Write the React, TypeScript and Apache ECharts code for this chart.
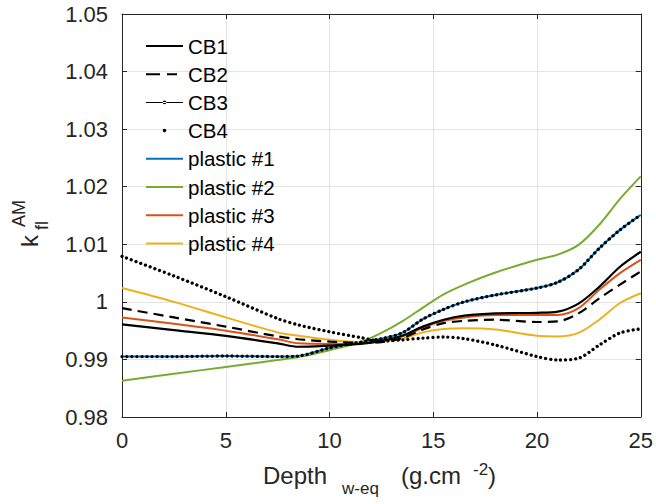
import React, { useEffect, useRef } from "react";
import * as echarts from "echarts";

// ---- Data ----
const depth = [0, 2.5, 5, 7.5, 8.5, 10, 11.5, 12.5, 13.5, 14.5, 15.5, 16.5, 18, 20, 21, 22, 23, 24, 25];

const cb1 = [0.9961, 0.9951, 0.9941, 0.9928, 0.9922, 0.9924, 0.9927, 0.9932, 0.9941, 0.9957, 0.9969, 0.9976, 0.998, 0.9981, 0.9983, 0.9997, 1.0026, 1.0061, 1.0087];
const cb2 = [0.9989, 0.9973, 0.9957, 0.994, 0.9935, 0.9931, 0.9929, 0.993, 0.9937, 0.9952, 0.9963, 0.9967, 0.9969, 0.9965, 0.9966, 0.998, 1.0006, 1.003, 1.0053];
const cb3 = [1.0079, 1.0045, 1.0009, 0.9971, 0.996, 0.9948, 0.9938, 0.9932, 0.9934, 0.9937, 0.9939, 0.9936, 0.9925, 0.9905, 0.9899, 0.9902, 0.9925, 0.9946, 0.9953];
const cb4 = [0.9905, 0.9905, 0.9906, 0.9905, 0.9906, 0.992, 0.993, 0.9936, 0.9946, 0.997, 0.9987, 1.0, 1.0012, 1.0024, 1.0034, 1.0056, 1.0093, 1.0125, 1.0151];
const plastic1 = [0.9905, 0.9905, 0.9906, 0.9905, 0.9906, 0.992, 0.993, 0.9936, 0.9946, 0.997, 0.9987, 1.0, 1.0012, 1.0024, 1.0034, 1.0056, 1.0093, 1.0125, 1.0151];
const plastic2 = [0.9863, 0.9875, 0.9887, 0.9899, 0.9904, 0.9916, 0.993, 0.9946, 0.9966, 0.999, 1.0013, 1.003, 1.0051, 1.0073, 1.0082, 1.0099, 1.0134, 1.0179, 1.0218];
const plastic3 = [0.9973, 0.9962, 0.995, 0.9935, 0.9928, 0.9927, 0.9928, 0.9932, 0.994, 0.9955, 0.9967, 0.9973, 0.9977, 0.9977, 0.9977, 0.9989, 1.0021, 1.005, 1.0073];
const plastic4 = [1.0024, 1.0, 0.9973, 0.9947, 0.9941, 0.9934, 0.993, 0.9932, 0.9936, 0.9947, 0.9953, 0.9954, 0.9952, 0.9941, 0.994, 0.9946, 0.9969, 0.9998, 1.0015];

const seriesNames = ["CB1", "CB2", "CB3", "CB4", "plastic #1", "plastic #2", "plastic #3", "plastic #4"];
const xTicks = [0, 5, 10, 15, 20, 25];
const yTicks = [0.98, 0.99, 1.0, 1.01, 1.02, 1.03, 1.04, 1.05];

const FONT = "'Liberation Sans', Arial, Helvetica, sans-serif";
const AXIS_COLOR = "#262626";
const GRID_COLOR = "#e4e4e4";
const BLUE = "#0072BD";
const ORANGE = "#D95319";
const YELLOW = "#EDB120";
const GREEN = "#77AC30";

// legend icons (37 x 14 box, anchored by the corner moveTo points)
const BOX = "M0,0M37,14";
const ICON_SOLID = `path://${BOX}M0,6L37,6L37,8L0,8Z`;
const ICON_DASH = `path://${BOX}M0,6L14,6L14,8L0,8ZM21,6L31,6L31,8L21,8Z`;
const ICON_LINE_DOT = `path://${BOX}M0,6.5L37,6.5L37,7.5L0,7.5ZM16.7,7A1.8,1.8,0,1,0,20.3,7A1.8,1.8,0,1,0,16.7,7Z`;
const ICON_DOT = `path://${BOX}M16.7,7A1.8,1.8,0,1,0,20.3,7A1.8,1.8,0,1,0,16.7,7Z`;

function pairs(vals: number[]) {
  return depth.map((x, i) => [x, vals[i]]);
}

export default function App() {
  const ref = useRef<HTMLDivElement>(null);

  useEffect(() => {
    if (!ref.current) return;
    const chart = echarts.init(ref.current, undefined, { renderer: "svg" });

    const lineBase = {
      type: "line" as const,
      showSymbol: false,
      symbol: "none",
      smooth: 0.3,
      silent: true,
    };

    const axisCommon = {
      type: "value" as const,
      axisLine: { show: true, onZero: false, lineStyle: { color: AXIS_COLOR, width: 1 } },
      axisTick: { show: true, inside: true, length: 5, lineStyle: { color: AXIS_COLOR, width: 1 } },
      splitLine: { show: false },
    };

    const txt = (text: string, x: number, y: number, fontSize: number) => ({
      type: "text",
      x,
      y,
      style: { text, fontSize, fontFamily: FONT, fill: AXIS_COLOR, align: "left", verticalAlign: "middle" },
    });

    const option: any = {
      animation: false,
      backgroundColor: "#ffffff",
      grid: { left: 122, right: 10, top: 14, bottom: 87, containLabel: false },
      xAxis: [
        {
          ...axisCommon,
          position: "bottom",
          min: xTicks[0],
          max: xTicks[xTicks.length - 1],
          interval: 5,
          axisLabel: { show: true, color: AXIS_COLOR, fontSize: 22, fontFamily: FONT, margin: 12 },
          splitLine: { show: true, lineStyle: { color: GRID_COLOR, width: 1 } },
        },
        {
          ...axisCommon,
          position: "top",
          min: xTicks[0],
          max: xTicks[xTicks.length - 1],
          interval: 5,
          axisLabel: { show: false },
        },
      ],
      yAxis: [
        {
          ...axisCommon,
          position: "left",
          min: yTicks[0],
          max: yTicks[yTicks.length - 1],
          interval: 0.01,
          axisLabel: {
            show: true,
            color: AXIS_COLOR,
            fontSize: 22,
            fontFamily: FONT,
            margin: 14,
            formatter: (v: number) => String(Number(v.toFixed(2))),
          },
          splitLine: { show: true, lineStyle: { color: GRID_COLOR, width: 1 } },
        },
        {
          ...axisCommon,
          position: "right",
          min: yTicks[0],
          max: yTicks[yTicks.length - 1],
          interval: 0.01,
          axisLabel: { show: false },
        },
      ],
      legend: {
        orient: "vertical",
        left: 141,
        top: 30.5,
        itemWidth: 37,
        itemHeight: 14,
        itemGap: 7.2,
        selectedMode: false,
        itemStyle: { borderWidth: 0 },
        textStyle: { fontSize: 20.5, lineHeight: 20, fontFamily: FONT, color: "#000" },
        data: [
          { name: seriesNames[0], icon: ICON_SOLID },
          { name: seriesNames[1], icon: ICON_DASH },
          { name: seriesNames[2], icon: ICON_LINE_DOT },
          { name: seriesNames[3], icon: ICON_DOT },
          { name: seriesNames[4], icon: ICON_SOLID },
          { name: seriesNames[5], icon: ICON_SOLID },
          { name: seriesNames[6], icon: ICON_SOLID },
          { name: seriesNames[7], icon: ICON_SOLID },
        ],
      },
      series: [
        { ...lineBase, name: seriesNames[0], data: pairs(cb1), color: "#000", z: 4, lineStyle: { color: "#000", width: 2.2 } },
        { ...lineBase, name: seriesNames[1], data: pairs(cb2), color: "#000", z: 4, lineStyle: { color: "#000", width: 2.2, type: [10, 6] } },
        { ...lineBase, name: seriesNames[2], data: pairs(cb3), color: "#000", z: 4, lineStyle: { color: "#000", width: 3.3, type: [0.01, 5], cap: "round" } },
        { ...lineBase, name: seriesNames[3], data: pairs(cb4), color: "#000", z: 5, lineStyle: { color: "#000", width: 3.3, type: [0.01, 5], cap: "round" } },
        { ...lineBase, name: seriesNames[4], data: pairs(plastic1), color: BLUE, z: 3, lineStyle: { color: BLUE, width: 2 } },
        { ...lineBase, name: seriesNames[5], data: pairs(plastic2), color: GREEN, z: 3, lineStyle: { color: GREEN, width: 2 } },
        { ...lineBase, name: seriesNames[6], data: pairs(plastic3), color: ORANGE, z: 3, lineStyle: { color: ORANGE, width: 2 } },
        { ...lineBase, name: seriesNames[7], data: pairs(plastic4), color: YELLOW, z: 3, lineStyle: { color: YELLOW, width: 2 } },
      ],
      graphic: [
        // y-axis title: k_fl^AM (rotated)
        {
          type: "group",
          x: 38,
          y: 247,
          rotation: Math.PI / 2,
          children: [
            txt("k", 0, -8.4, 24),
            txt("AM", 20, -19.3, 18),
            txt("fl", 17, 3.7, 18),
          ],
        },
        // x-axis title: Depth_{w-eq} (g.cm^{-2})
        txt("Depth", 263, 475.3, 24),
        txt("w-eq", 342, 488.5, 17),
        txt("(g.cm", 401, 475.3, 24),
        txt("-2", 473, 469.5, 17),
        txt(")", 488, 475.3, 24),
      ],
    };

    chart.setOption(option);
    return () => chart.dispose();
  }, []);

  return (
    <div
      ref={ref}
      style={{ position: "absolute", left: 0, top: 0, width: 656, height: 504, background: "#fff" }}
    />
  );
}
